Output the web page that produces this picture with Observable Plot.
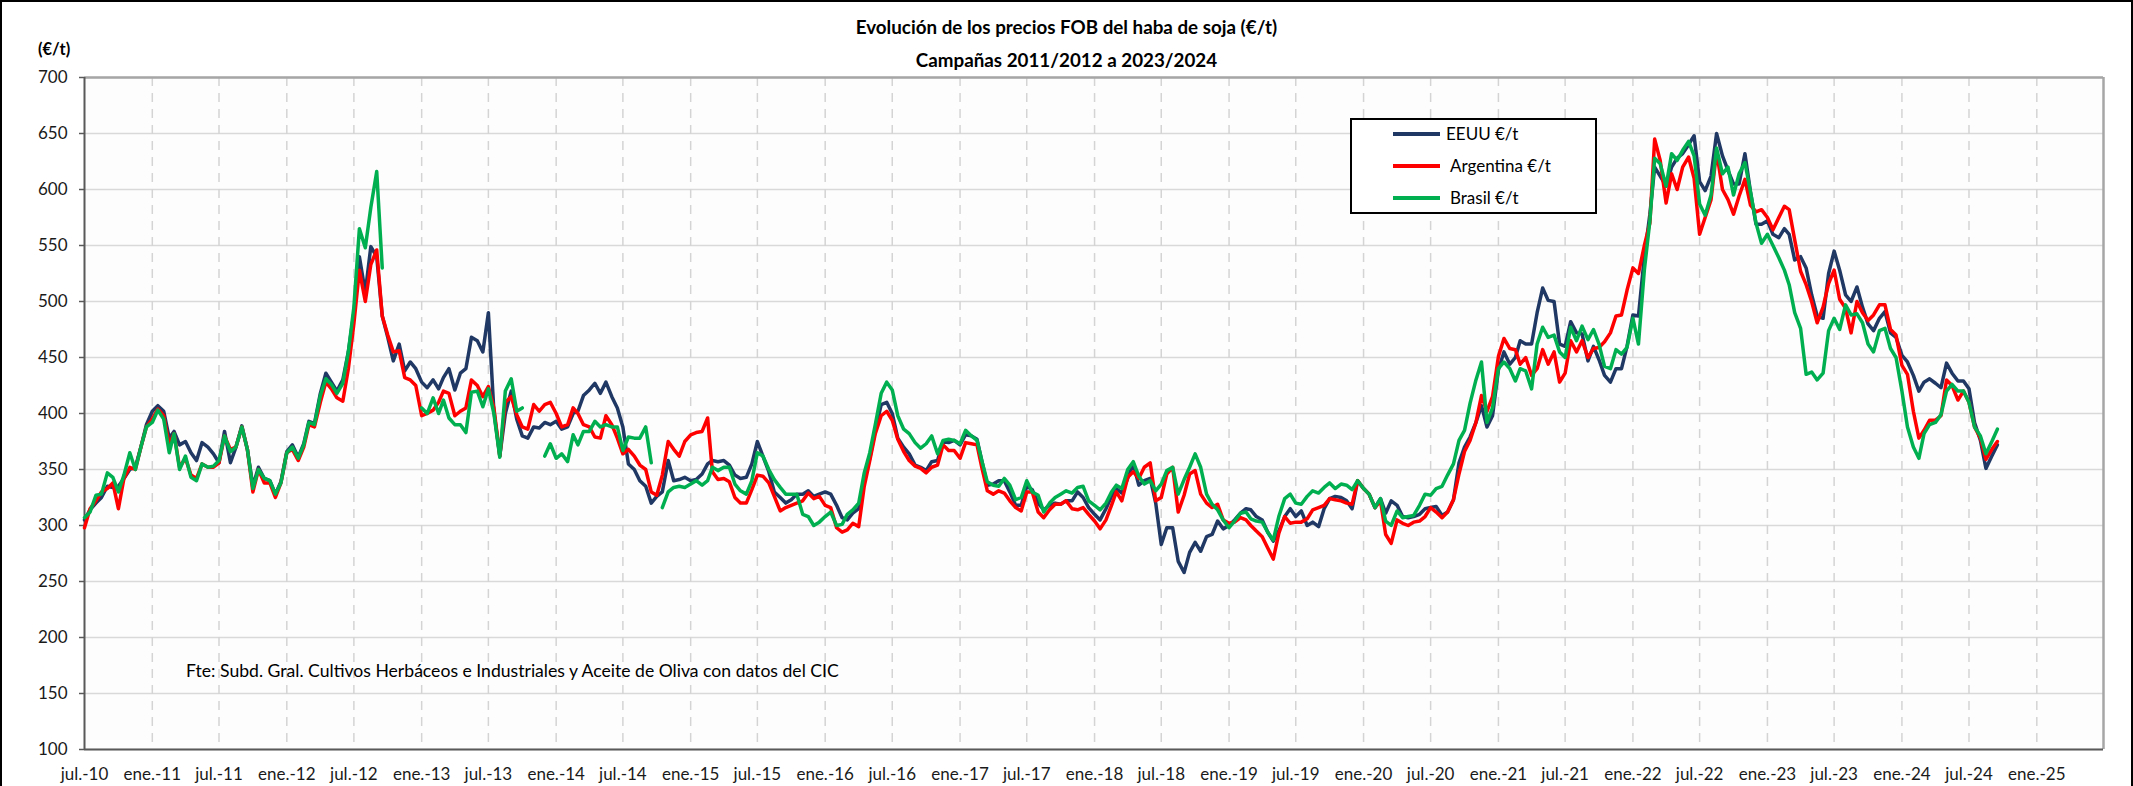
<!DOCTYPE html>
<html>
<head>
<meta charset="utf-8">
<script src="https://cdn.jsdelivr.net/npm/d3@7"></script>
<script src="https://cdn.jsdelivr.net/npm/@observablehq/plot@0.6"></script>
<style>
  html, body { margin: 0; padding: 0; background: #fff; }
  #wrap { position: relative; width: 2133px; height: 786px; overflow: hidden; font-family: Lato, "Open Sans", sans-serif; color: #000; }
  #wrap svg { position: absolute; left: 0; top: 0; }
  .abs { position: absolute; white-space: nowrap; }
  #border { position: absolute; left: 0; top: 0; width: 2133px; height: 790px; box-sizing: border-box; border: 2px solid #000; pointer-events: none; }
  .title { left: 0; width: 2133px; text-align: center; font-weight: 700; font-size: 18.8px; line-height: 22px; }
  #legend { position: absolute; left: 1350px; top: 118px; width: 247px; height: 96px; box-sizing: border-box; border: 2.5px solid #000; background: #fff; }
  .lg-line { position: absolute; left: 41px; width: 47px; height: 4px; }
  .lg-text { position: absolute; font-size: 17px; line-height: 20px; }
</style>
</head>
<body>
<div id="wrap">
  <div class="abs title" style="top:16px">Evolución de los precios FOB del haba de soja (€/t)</div>
  <div class="abs title" style="top:49px">Campañas 2011/2012 a 2023/2024</div>
  <div class="abs" style="left:38px; top:39px; font-weight:700; font-size:16.5px; line-height:20px">(€/t)</div>
  <div class="abs" style="left:186px; top:661px; font-size:17.6px; line-height:20px">Fte: Subd. Gral. Cultivos Herbáceos e Industriales y Aceite de Oliva con datos del CIC</div>
  <div id="legend"></div>
  <div id="border"></div>
</div>
<script>
// Semi-monthly values (1st and 16th of each month) starting 1 July 2010
const seriesNames = ["EEUU €/t", "Argentina €/t", "Brasil €/t"];
const seriesColors = ["#1F3864", "#FF0000", "#00B050"];

const eeuu = [
305,314,320,325,335,334,335,342,350,352,370,390,
402,407,402,378,384,372,375,365,358,374,370,364,
356,384,356,370,389,368,335,352,342,340,328,339,
366,372,361,373,393,391,418,436,428,420,430,455,
490,540,508,549,540,487,468,447,462,438,446,440,
428,423,430,422,432,440,421,436,440,468,465,455,
490,402,362,400,420,395,380,378,388,387,392,390,
393,386,388,400,402,416,421,427,418,428,415,405,
388,355,350,340,335,320,326,330,358,340,341,343,
340,341,346,355,358,357,358,354,345,342,343,355,
375,362,348,330,325,320,323,328,328,331,326,328,
330,328,318,307,305,311,315,340,360,385,408,410,
400,378,370,364,354,352,349,357,358,375,374,376,
372,381,380,377,358,336,337,340,340,330,318,318,
335,332,320,314,318,320,319,322,322,330,325,316,
310,305,315,326,333,329,342,355,336,340,342,320,
283,298,298,268,258,276,285,277,290,292,304,297,
300,305,311,315,314,308,305,294,286,295,308,315,
308,313,300,303,299,315,324,326,325,322,315,340,
333,328,316,324,311,322,318,308,307,308,310,315,
316,317,309,312,323,356,370,379,392,407,388,398,
439,455,444,450,465,462,462,490,512,501,500,462,
460,482,472,471,447,460,448,434,428,440,440,460,
488,487,540,578,620,612,603,620,628,632,640,648,
607,599,612,650,630,617,605,605,632,598,569,569,
572,560,557,565,560,537,540,530,506,487,485,525,
545,528,506,500,513,495,480,474,485,491,472,468,
452,446,434,420,428,431,427,423,445,436,429,429,
422,392,376,351,362,372];

const argentina = [
298,315,322,330,333,338,315,342,352,350,370,388,
395,404,398,372,382,352,360,345,342,355,352,352,
356,380,368,370,388,368,330,350,338,338,325,338,
365,368,358,370,390,388,410,428,422,414,411,440,
480,528,500,533,546,487,470,455,456,432,430,425,
398,400,403,410,420,418,398,402,405,430,425,415,
424,405,362,410,415,399,388,386,408,402,408,410,
400,388,390,405,400,390,388,379,378,398,390,378,
364,368,362,354,350,330,327,345,375,368,362,375,
381,383,384,396,348,341,342,339,325,320,320,332,
345,344,338,326,313,316,318,320,322,329,324,326,
318,316,298,294,296,302,299,335,358,382,398,402,
394,377,366,358,353,351,347,352,354,372,367,367,
360,374,373,372,352,331,328,331,329,322,316,313,
330,330,312,307,314,319,319,322,315,314,316,310,
304,297,305,318,330,322,343,348,342,352,356,322,
325,346,352,312,327,346,349,328,320,316,319,305,
302,303,307,305,300,295,290,280,270,293,308,302,
303,303,306,314,316,318,324,323,322,320,319,340,
333,328,316,322,292,284,305,302,300,303,304,308,
316,312,307,312,323,346,366,376,392,416,402,415,
451,467,458,457,444,450,434,440,457,444,455,428,
436,465,455,465,450,458,459,464,472,487,488,510,
530,525,550,570,645,626,588,614,600,620,629,610,
560,575,591,634,600,591,578,594,609,586,580,582,
575,564,575,585,582,555,527,515,500,481,495,516,
528,502,494,472,500,490,483,488,497,497,475,470,
443,435,402,378,385,394,394,398,430,425,412,420,
410,388,378,359,368,375];

const brasil = [
307,312,327,328,347,343,330,345,365,350,370,388,
392,403,395,365,382,350,362,343,340,355,352,353,
358,380,366,370,388,368,333,350,342,340,328,338,
365,370,360,372,392,390,416,431,426,418,427,455,
495,565,548,584,616,530,null,null,null,null,null,null,
405,400,414,400,412,396,390,390,383,419,420,406,
422,400,361,420,431,402,405,null,null,null,362,373,
360,364,357,381,372,384,384,393,388,390,388,388,
367,379,378,378,388,356,null,316,330,334,335,334,
337,340,336,340,352,349,352,352,337,331,328,340,
365,362,350,341,334,328,328,328,310,308,300,303,
308,312,300,301,310,314,320,347,365,390,418,428,
421,398,386,382,374,369,373,380,364,376,377,376,
373,385,380,376,358,339,336,335,342,336,323,325,
340,330,327,312,320,325,328,331,329,334,335,322,
318,314,320,330,336,333,350,357,344,337,340,331,
337,349,352,328,341,352,364,352,328,319,314,305,
298,304,311,312,306,304,303,294,287,308,324,328,
320,319,326,331,329,334,338,333,337,336,332,340,
333,328,316,324,304,300,313,307,308,309,318,328,
327,333,335,345,355,376,385,409,430,446,392,405,
440,446,440,429,440,438,422,462,477,468,470,455,
450,477,465,478,466,475,462,442,440,457,453,459,
485,462,528,572,628,623,603,632,626,635,643,630,
587,577,595,637,614,620,595,614,624,598,570,552,
560,550,539,528,515,490,476,435,437,430,436,474,
485,475,497,488,489,481,462,455,474,476,458,450,
420,388,370,360,382,390,392,399,420,426,420,420,
410,388,380,364,375,386];

const xTickLabels = ["jul.-10","ene.-11","jul.-11","ene.-12","jul.-12","ene.-13","jul.-13","ene.-14","jul.-14","ene.-15","jul.-15","ene.-16","jul.-16","ene.-17","jul.-17","ene.-18","jul.-18","ene.-19","jul.-19","ene.-20","jul.-20","ene.-21","jul.-21","ene.-22","jul.-22","ene.-23","jul.-23","ene.-24","jul.-24","ene.-25"];
const yTicks = [100,150,200,250,300,350,400,450,500,550,600,650,700];

// date of semi-monthly index i (1st / 16th of each month from July 2010)
const dateOf = i => new Date(Date.UTC(2010, 6 + Math.floor(i / 2), i % 2 ? 16 : 1));
const labelDate = s => new Date(Date.UTC(2000 + +s.slice(-2), s.startsWith("jul") ? 6 : 0, 1));
const tickDates = xTickLabels.map(labelDate);
const labelByTime = new Map(tickDates.map((d, i) => [+d, xTickLabels[i]]));
const xStart = new Date(Date.UTC(2010, 6, 1));
const xEnd = new Date(Date.UTC(2025, 6, 1));

const allValues = [eeuu, argentina, brasil];
const seriesRows = allValues.map((vals, s) => vals.map((v, i) => ({date: dateOf(i), value: v == null ? NaN : v, series: seriesNames[s]})));

const chart = Plot.plot({
  width: 2133,
  height: 786,
  marginLeft: 84,
  marginRight: 30,
  marginTop: 77,
  marginBottom: 37,
  style: {fontFamily: "Lato, sans-serif", fontSize: "17px", color: "#1a1a1a", background: "transparent", overflow: "visible"},
  x: {type: "utc", domain: [xStart, xEnd]},
  y: {domain: [100, 700]},
  marks: [
    Plot.frame({fill: "#fdfdfd", stroke: null}),
    Plot.gridY(yTicks, {stroke: "#d9d9d9", strokeOpacity: 1, strokeWidth: 1.5}),
    Plot.gridX(tickDates.slice(1), {stroke: "#d4d4d4", strokeOpacity: 1, strokeWidth: 1.5, strokeDasharray: "9,7"}),
    Plot.ruleY([700], {stroke: "#a6a6a6", strokeWidth: 2.5}),
    Plot.ruleX([xEnd], {stroke: "#a6a6a6", strokeWidth: 2.5}),
    Plot.axisY(yTicks, {tickSize: 5, tickPadding: 12, stroke: "#595959", strokeWidth: 1.5, label: null}),
    Plot.axisX(tickDates, {tickSize: 0, tickPadding: 18, tickFormat: d => labelByTime.get(+d), label: null}),
    Plot.ruleX([xStart], {stroke: "#595959", strokeWidth: 2}),
    Plot.ruleY([100], {stroke: "#595959", strokeWidth: 2}),
    ...seriesRows.map((rows, s) => Plot.line(rows, {x: "date", y: "value", stroke: seriesColors[s], strokeWidth: 3.5, strokeLinejoin: "round", strokeLinecap: "round"}))
  ]
});
document.getElementById("wrap").prepend(chart);

// Legend
const legend = document.getElementById("legend");
const textLeft = [94, 98, 98];
seriesNames.forEach((name, i) => {
  const y = 14 + i * 32;
  const ln = document.createElement("div");
  ln.className = "lg-line";
  ln.style.top = (y - 2) + "px";
  ln.style.background = seriesColors[i];
  legend.appendChild(ln);
  const tx = document.createElement("div");
  tx.className = "lg-text";
  tx.style.left = textLeft[i] + "px";
  tx.style.top = (y - 10) + "px";
  tx.textContent = name;
  legend.appendChild(tx);
});
</script>
</body>
</html>
